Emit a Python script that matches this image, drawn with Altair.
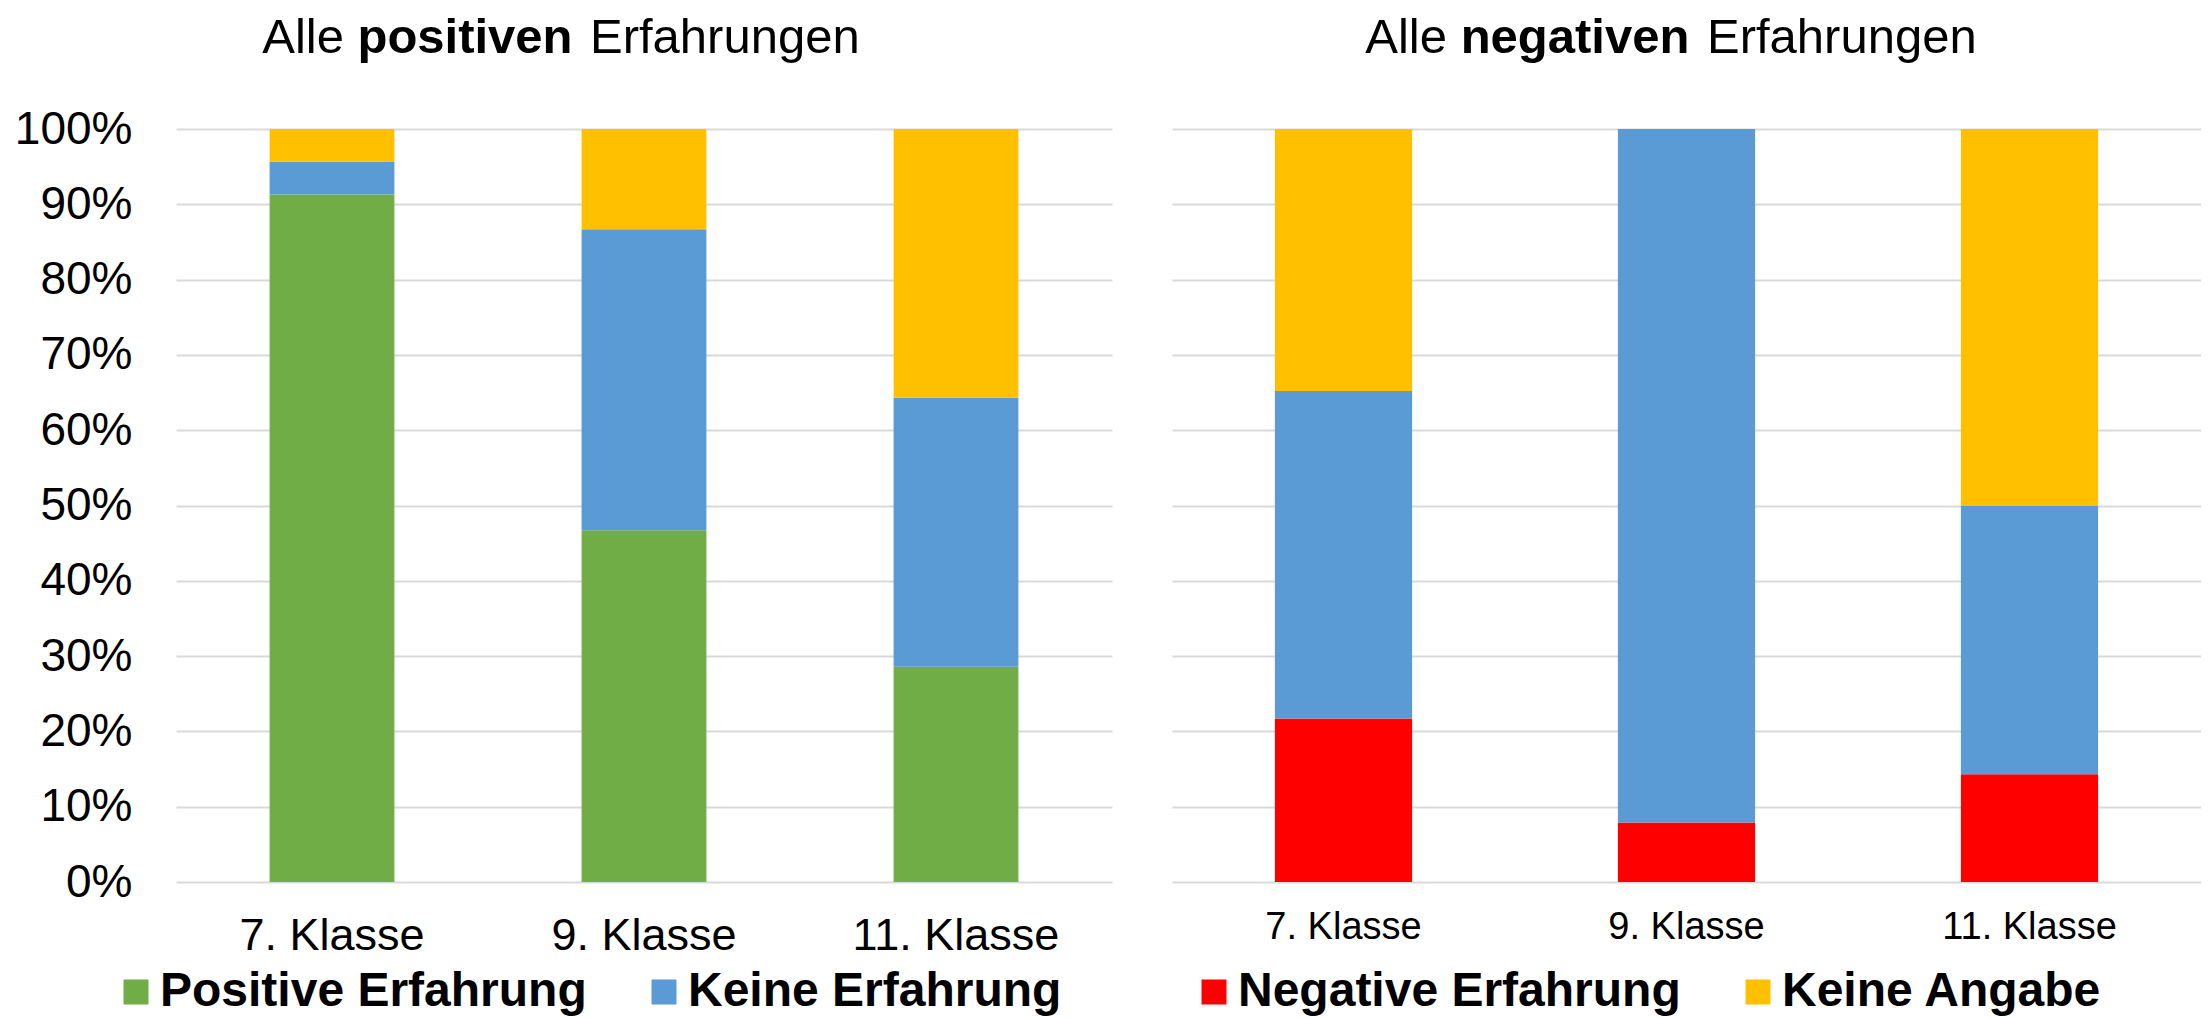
import altair as alt
import pandas as pd

# ---------------- data ----------------
klassen = ["7. Klasse", "9. Klasse", "11. Klasse"]
kategorien = ["Positive Erfahrung", "Negative Erfahrung", "Keine Erfahrung", "Keine Angabe"]
farben = ["#70AD47", "#FF0000", "#5B9BD5", "#FFC000"]

# left panel: "Alle positiven Erfahrungen" (percent)
pos_positiv = [91.3, 46.7, 28.6]
pos_keine_erfahrung = [4.35, 40.0, 35.7]
pos_keine_angabe = [4.35, 13.3, 35.7]

# right panel: "Alle negativen Erfahrungen" (percent)
neg_negativ = [21.7, 7.9, 14.3]
neg_keine_erfahrung = [43.5, 92.1, 35.7]
neg_keine_angabe = [34.8, 0.0, 50.0]

y_ticks = [0, 10, 20, 30, 40, 50, 60, 70, 80, 90, 100]

legend_links = ["Positive Erfahrung", "Keine Erfahrung"]
legend_rechts = ["Negative Erfahrung", "Keine Angabe"]

titel_links = ["Alle", "positiven", "Erfahrungen"]
titel_rechts = ["Alle", "negativen", "Erfahrungen"]

FONT = "Liberation Sans"


def long_df(series):
    rows = []
    for order, (cat, vals) in enumerate(series):
        for k, v in zip(klassen, vals):
            rows.append({"Klasse": k, "Kategorie": cat, "Wert": v, "Ordnung": order})
    return pd.DataFrame(rows)


df_pos = long_df([("Positive Erfahrung", pos_positiv),
                  ("Keine Erfahrung", pos_keine_erfahrung),
                  ("Keine Angabe", pos_keine_angabe)])
df_neg = long_df([("Negative Erfahrung", neg_negativ),
                  ("Keine Erfahrung", neg_keine_erfahrung),
                  ("Keine Angabe", neg_keine_angabe)])

one = pd.DataFrame({"a": [0]})

TITLE_Y = -76


def panel(df, width, height, legend_values, legend_x, show_y_labels,
          x_label_size, x_label_pad, title_parts, title_pos):
    y_axis = alt.Axis(values=y_ticks, labelExpr="datum.value + '%'",
                      labelFontSize=46, labelFont=FONT, labelColor="black",
                      labelPadding=44, domain=False, ticks=False, tickSize=0,
                      grid=True, gridColor="#d9d9d9", gridWidth=2, title=None,
                      labels=show_y_labels)
    bars = alt.Chart(df).mark_bar().encode(
        x=alt.X("Klasse:N", sort=klassen,
                scale=alt.Scale(paddingInner=0.6, paddingOuter=0.3),
                axis=alt.Axis(labelAngle=0, labelFontSize=x_label_size,
                              labelFont=FONT, labelColor="black",
                              labelPadding=x_label_pad, domain=False,
                              ticks=False, tickSize=0, title=None,
                              labelLimit=400)),
        y=alt.Y("Wert:Q", stack="zero", scale=alt.Scale(domain=[0, 100]),
                axis=y_axis),
        color=alt.Color("Kategorie:N",
                        scale=alt.Scale(domain=kategorien, range=farben),
                        legend=alt.Legend(values=legend_values, orient="none",
                                          legendX=legend_x, legendY=839,
                                          direction="horizontal", title=None,
                                          symbolType="square", symbolSize=625,
                                          symbolStrokeWidth=0,
                                          labelFontSize=48,
                                          labelFontWeight="bold",
                                          labelFont=FONT, labelColor="black",
                                          labelOffset=0, columnPadding=53,
                                          labelLimit=0)),
        order=alt.Order("Ordnung:Q", sort="ascending"),
    )
    t1 = alt.Chart(one).mark_text(align="right", baseline="alphabetic",
                                  fontSize=49, font=FONT, color="black").encode(
        x=alt.value(title_pos[0]), y=alt.value(TITLE_Y), text=alt.value(title_parts[0]))
    t2 = alt.Chart(one).mark_text(align="center", baseline="alphabetic",
                                  fontSize=49, font=FONT, fontWeight="bold",
                                  color="black").encode(
        x=alt.value(title_pos[1]), y=alt.value(TITLE_Y), text=alt.value(title_parts[1]))
    t3 = alt.Chart(one).mark_text(align="left", baseline="alphabetic",
                                  fontSize=49, font=FONT, color="black").encode(
        x=alt.value(title_pos[2]), y=alt.value(TITLE_Y), text=alt.value(title_parts[2]))
    return alt.layer(bars, t1, t2, t3).properties(width=width, height=height)


left = panel(df_pos, 936, 753, legend_links, -64, True, 45, 31,
             titel_links, [168, 289, 414])
right = panel(df_neg, 1029, 753, legend_rechts, 18, False, 38, 26,
              titel_rechts, [275, 403, 535])

chart = alt.hconcat(left, right, spacing=60).resolve_scale(
    color="independent"
).properties(
    padding={"left": 6, "top": 6, "right": 0, "bottom": 0},
    background="white",
).configure_view(stroke=None)

chart.save("out.html", embed_options={"renderer": "svg", "actions": False})
